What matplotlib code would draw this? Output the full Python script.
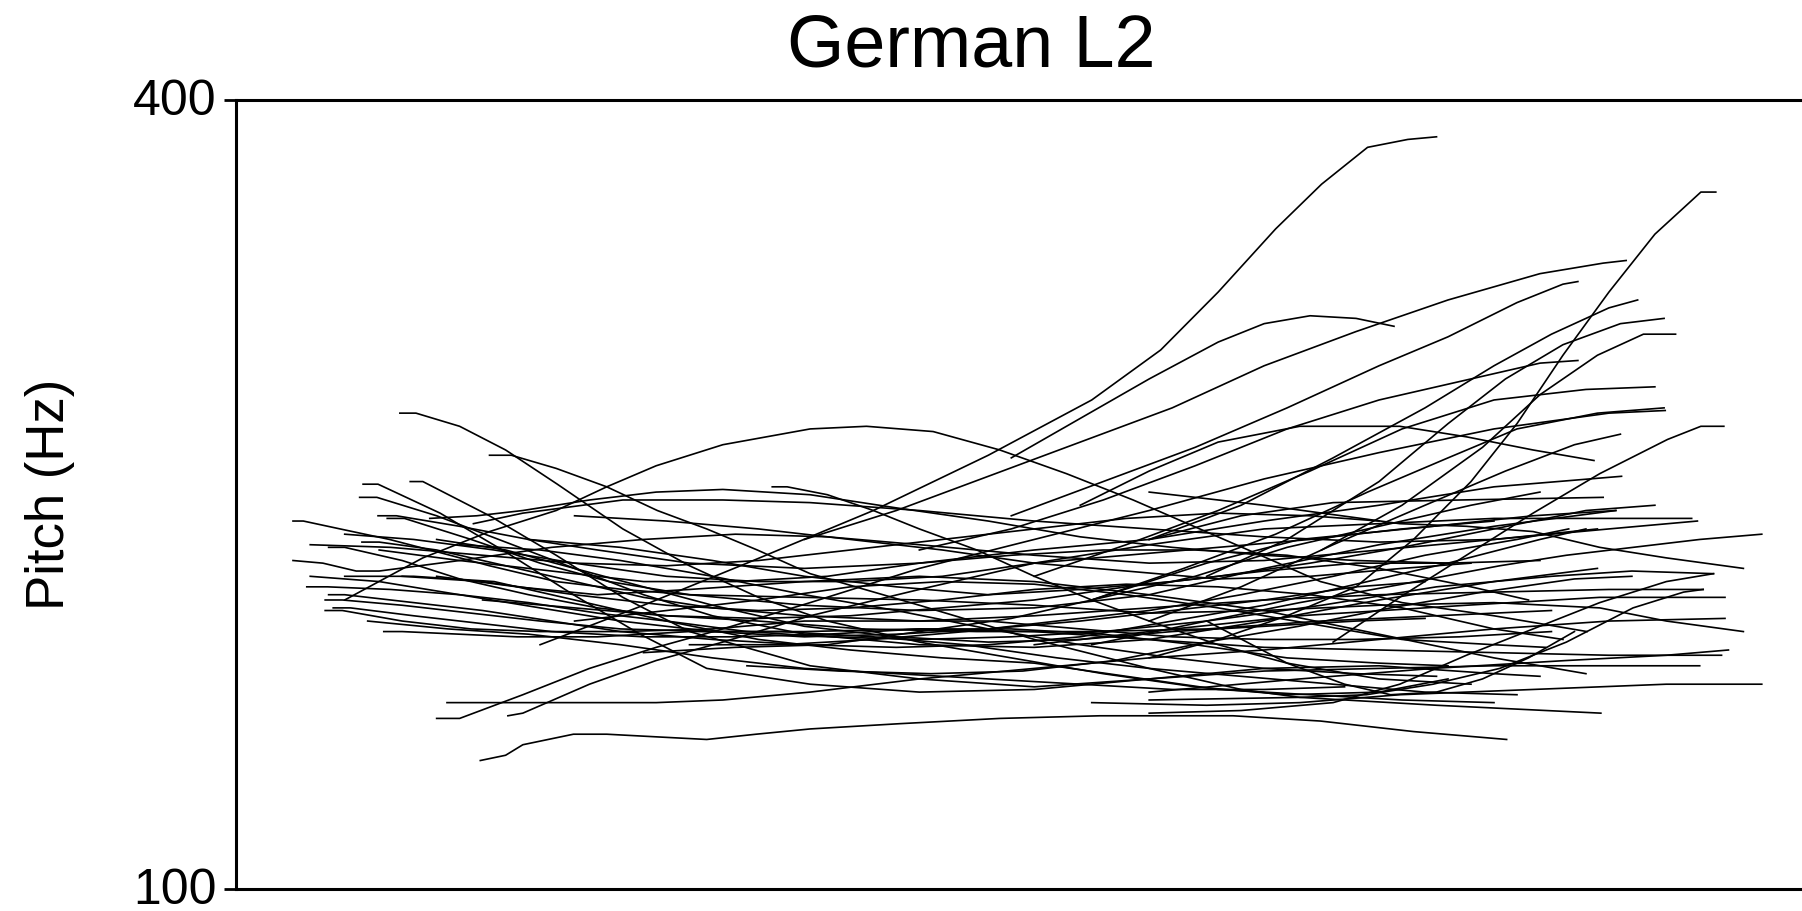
import matplotlib
matplotlib.use("Agg")
import matplotlib.pyplot as plt
import matplotlib.transforms as mtransforms

plt.rcParams['font.family'] = ['Liberation Sans', 'DejaVu Sans']

title = "German L2"
y_label = "Pitch (Hz)"
y_ticks = [100, 400]

# pitch contours: time (ms) and pitch (Hz), one row per contour
time_ms = [
    [143, 157, 195, 235, 280, 337, 395, 455, 515, 595, 675, 755, 835, 915, 995, 1055],
    [221, 240, 279, 323, 367, 410, 454, 500, 595, 695, 795, 875, 926, 1045, 1188],
    [111, 124, 178, 236, 294, 352, 410, 500, 595, 695, 795, 895, 995, 1095, 1135],
    [152, 163, 221, 279, 337, 395, 468, 500, 595, 695, 795, 895, 995, 1095, 1195, 1274],
    [108, 123, 175, 235, 295, 355, 415, 495, 595, 695, 795, 895, 995, 1095, 1185],
    [124, 140, 195, 255, 315, 395, 495, 595, 695, 795, 895, 995, 1095, 1206],
    [132, 147, 205, 265, 325, 395, 495, 595, 695, 795, 895, 995, 1095, 1201],
    [50, 59, 91, 134, 178, 221, 279, 337, 395, 495, 595, 695, 795, 895, 995, 1095, 1187, 1245, 1312],
    [110, 125, 175, 235, 295, 355, 415, 495, 595, 695, 795, 895, 995, 1095, 1195, 1277],
    [81, 95, 145, 195, 255, 315, 375, 455, 545, 645, 745, 845, 945, 1045, 1145],
    [50, 76, 105, 125, 195, 275, 355, 435, 515, 595, 695, 795, 895, 995, 1095, 1185],
    [62, 80, 135, 195, 255, 315, 375, 445, 515, 595, 675, 755, 845, 945, 1045, 1145, 1215, 1286],
    [81, 95, 155, 215, 275, 335, 415, 495, 575, 655, 735, 815, 895, 975, 1055, 1135, 1175],
    [78, 93, 145, 205, 265, 335, 415, 495, 595, 695, 795, 895, 995, 1095, 1195, 1293],
    [85, 100, 155, 215, 275, 355, 435, 515, 595, 675, 755, 835, 915, 995, 1055],
    [78, 93, 145, 205, 265, 335, 415, 495, 575, 655, 735, 815, 895, 975, 1065, 1145],
    [129, 145, 195, 245, 315, 395, 475, 555, 635, 715, 795, 875, 955, 1035, 1115],
    [95, 163, 221, 279, 323, 366, 424, 500, 549, 607, 665, 723, 781, 839, 897, 944, 1015, 1095, 1176],
    [184, 195, 250, 308, 366, 424, 500, 595, 695, 795, 895, 995, 1095, 1195, 1296],
    [175, 195, 250, 308, 366, 424, 500, 595, 695, 795, 895, 995, 1095, 1195, 1244],
    [237, 250, 308, 366, 424, 500, 595, 695, 795, 895, 995, 1095, 1195, 1267],
    [213, 235, 250, 294, 323, 366, 410, 453, 500, 578, 665, 752, 868, 944, 1025, 1106],
    [467, 480, 515, 555, 595, 645, 695, 745, 795, 855, 915, 995, 1075],
    [169, 210, 250, 308, 366, 424, 500, 575, 655, 735, 815, 895, 975, 1055],
    [207, 250, 337, 424, 500, 595, 695, 795, 895, 995, 1095, 1195, 1272],
    [265, 355, 445, 555, 655, 745, 805, 855, 905, 945, 985, 1020, 1045],
    [795, 855, 915, 975, 1025, 1075, 1115, 1155, 1195, 1235, 1275, 1288],
    [675, 735, 795, 855, 895, 935, 975, 1008],
    [495, 575, 655, 735, 815, 895, 975, 1055, 1135, 1190, 1210],
    [675, 755, 835, 915, 995, 1055, 1115, 1155, 1168],
    [795, 875, 955, 1035, 1095, 1145, 1195, 1220],
    [845, 915, 995, 1055, 1105, 1155, 1205, 1243],
    [945, 1015, 1085, 1135, 1185, 1225, 1253],
    [595, 675, 755, 835, 915, 995, 1075, 1135, 1168],
    [695, 775, 855, 935, 1015, 1095, 1175, 1235],
    [745, 825, 905, 985, 1055, 1115, 1185, 1243],
    [955, 1013, 1071, 1129, 1187, 1246, 1275, 1295],
    [795, 875, 955, 1035, 1105, 1165, 1205],
    [735, 795, 855, 926, 1013, 1071, 1129, 1182],
    [795, 875, 955, 1066, 1190],
    [745, 845, 926, 1042, 1129, 1201],
    [745, 845, 926, 1015, 1100, 1158, 1216, 1274, 1328],
    [795, 895, 1013, 1071, 1129, 1187, 1245, 1312],
    [795, 875, 955, 1013, 1071, 1129, 1187, 1245, 1286],
    [795, 926, 984, 1042, 1100, 1158, 1216, 1260, 1277],
    [695, 795, 926, 1071, 1187, 1296],
    [795, 926, 1042, 1158, 1245, 1299],
    [745, 845, 926, 1013, 1129, 1245, 1328],
    [175, 245, 315, 395, 495, 595, 695, 795, 895, 995, 1095, 1175],
    [95, 155, 225, 295, 375, 455, 535, 615, 695, 775, 855, 935, 1015, 1095],
    [845, 915, 965, 1005, 1045, 1085, 1125, 1165],
    [255, 335, 415, 495, 575, 655, 735, 815, 895, 975, 1055, 1135],
    [125, 195, 275, 355, 435, 515, 595, 675, 755, 835, 915, 995, 1075, 1125],
    [65, 125, 195, 265, 335, 415, 495, 575, 655, 735, 815, 895, 975, 1035],
    [195, 265, 335, 415, 495, 575, 655, 735, 815, 895, 975, 1045],
    [295, 375, 455, 535, 615, 695, 775, 855, 935, 1015, 1075],
    [395, 475, 555, 635, 715, 795, 875, 955, 1035, 1115, 1160],
    [115, 185, 255, 335, 415, 495, 575, 655, 735, 815, 895, 965],
    [95, 155, 225, 295, 375, 455, 535, 615, 695, 775, 855, 935, 1015, 1095],
    [145, 215, 295, 375, 455, 535, 615, 695, 775, 855, 935, 1015, 1095, 1155],
    [295, 375, 455, 535, 615, 695, 775, 855, 935, 1015, 1095, 1140],
    [215, 295, 375, 455, 535, 615, 695, 775, 855, 935, 1015, 1095, 1175, 1235],
    [355, 435, 515, 595, 675, 755, 835, 915, 995, 1075, 1135],
    [65, 135, 215, 295, 375, 455, 535, 615, 695, 775, 855, 935, 995],
    [445, 525, 605, 685, 765, 845, 925, 1005, 1085, 1165, 1215],
    [175, 235, 295, 355, 415, 495, 575, 655, 735, 815, 895, 975, 1035],
]

pitch_hz = [
    [281, 281, 276, 267, 254, 237, 223, 211, 202, 194, 188, 182, 177, 174, 175, 180],
    [265, 265, 260, 253, 244, 237, 229, 220, 208, 195, 184, 176, 173, 170, 167],
    [254, 254, 243, 228, 212, 197, 184, 178, 175, 176, 180, 184, 185, 182, 181],
    [255, 255, 242, 227, 211, 198, 189, 185, 180, 177, 180, 183, 184, 185, 185, 185],
    [249, 249, 242, 232, 222, 212, 204, 197, 193, 192, 195, 202, 210, 217, 222],
    [242, 242, 238, 233, 229, 224, 222, 224, 229, 233, 240, 246, 253, 257],
    [241, 241, 233, 224, 217, 212, 208, 206, 207, 212, 222, 231, 238, 244],
    [240, 240, 237, 233, 228, 223, 217, 214, 212, 211, 210, 208, 205, 206, 208, 209, 207, 202, 198],
    [232, 232, 229, 223, 217, 211, 207, 204, 202, 204, 207, 210, 212, 213, 214, 214],
    [230, 230, 225, 218, 212, 207, 204, 202, 199, 198, 198, 199, 202, 204, 206],
    [225, 224, 221, 221, 225, 230, 233, 235, 234, 231, 227, 224, 225, 229, 233, 237],
    [215, 215, 214, 212, 209, 205, 202, 198, 196, 195, 196, 198, 202, 208, 215, 219, 221, 220],
    [212, 212, 209, 206, 202, 198, 195, 193, 192, 193, 196, 202, 208, 216, 224, 233, 237],
    [210, 210, 208, 205, 202, 199, 198, 198, 199, 198, 195, 192, 191, 190, 189, 189],
    [207, 207, 204, 201, 198, 196, 196, 197, 199, 199, 197, 193, 188, 186, 185],
    [206, 206, 202, 199, 198, 198, 199, 202, 202, 202, 199, 196, 195, 195, 196, 198],
    [198, 198, 197, 196, 196, 198, 198, 196, 193, 188, 184, 181, 178, 175, 174],
    [210, 226, 236, 244, 253, 261, 269, 275, 276, 274, 267, 258, 248, 237, 226, 217, 209, 204, 198],
    [171, 171, 171, 171, 171, 172, 175, 180, 184, 188, 191, 195, 199, 202, 203],
    [165, 165, 174, 184, 192, 199, 209, 222, 233, 244, 256, 266, 275, 281, 282],
    [166, 167, 178, 187, 194, 204, 214, 224, 231, 237, 239, 241, 241, 241],
    [149, 151, 155, 159, 159, 158, 157, 159, 161, 163, 165, 166, 166, 164, 160, 157],
    [253, 253, 250, 244, 237, 229, 219, 210, 202, 193, 186, 180, 178],
    [241, 242, 244, 248, 251, 252, 250, 245, 240, 234, 230, 227, 225, 224],
    [239, 243, 248, 248, 247, 244, 240, 237, 234, 232, 233, 237, 240],
    [193, 208, 224, 244, 265, 286, 305, 327, 351, 368, 382, 385, 386],
    [188, 195, 204, 215, 233, 255, 277, 303, 327, 349, 365, 365],
    [264, 279, 294, 308, 315, 318, 317, 314],
    [233, 244, 257, 270, 283, 299, 312, 324, 334, 338, 339],
    [242, 255, 268, 283, 299, 310, 323, 330, 331],
    [233, 246, 264, 283, 299, 311, 321, 324],
    [219, 233, 255, 277, 294, 307, 315, 317],
    [229, 246, 268, 288, 303, 311, 311],
    [229, 237, 248, 261, 275, 286, 294, 300, 301],
    [219, 231, 244, 259, 275, 286, 290, 291],
    [210, 222, 235, 251, 264, 275, 281, 283],
    [194, 211, 227, 243, 258, 271, 276, 276],
    [202, 215, 231, 246, 259, 269, 273],
    [246, 259, 270, 276, 276, 272, 267, 263],
    [233, 242, 247, 248, 249],
    [210, 224, 233, 238, 242, 244],
    [193, 202, 209, 216, 223, 227, 230, 233, 235],
    [251, 246, 239, 238, 236, 230, 226, 222],
    [167, 168, 171, 178, 189, 199, 209, 217, 220],
    [172, 173, 174, 178, 184, 194, 207, 213, 214],
    [193, 198, 204, 208, 211, 211],
    [175, 180, 184, 187, 189, 191],
    [171, 170, 171, 174, 176, 178, 178],
    [219, 215, 212, 214, 217, 219, 217, 212, 206, 197, 188, 182],
    [219, 219, 217, 210, 202, 195, 191, 188, 186, 181, 176, 174, 172, 171],
    [202, 186, 178, 174, 175, 180, 188, 198],
    [233, 230, 225, 219, 215, 212, 214, 217, 221, 224, 224, 225],
    [229, 225, 221, 217, 217, 219, 224, 227, 229, 229, 227, 222, 215, 210],
    [219, 217, 212, 207, 202, 198, 196, 197, 199, 202, 206, 210, 215, 217],
    [231, 229, 225, 219, 212, 206, 199, 193, 188, 184, 182, 181],
    [242, 240, 237, 233, 229, 224, 221, 218, 219, 222, 224],
    [193, 193, 195, 198, 202, 206, 212, 219, 227, 233, 237],
    [202, 199, 197, 193, 188, 184, 182, 180, 178, 176, 176, 177],
    [235, 233, 229, 224, 219, 217, 217, 219, 224, 227, 230, 233, 237, 240],
    [219, 217, 212, 208, 206, 207, 210, 214, 216, 215, 212, 207, 199, 195],
    [202, 206, 210, 215, 217, 216, 212, 207, 201, 195, 193, 192],
    [210, 207, 204, 203, 204, 207, 210, 215, 219, 224, 230, 237, 244, 246],
    [190, 192, 193, 198, 203, 211, 219, 230, 238, 246, 251],
    [231, 230, 227, 224, 223, 225, 229, 233, 237, 241, 243, 242, 240],
    [185, 183, 182, 183, 187, 194, 200, 207, 213, 218, 219],
    [233, 229, 222, 215, 208, 200, 196, 194, 195, 198, 200, 202, 203],
]

fig = plt.figure(figsize=(18.02, 9.12), dpi=100)
ax = fig.add_axes([0.1307, 0.0236, 0.8693, 0.8657])

for t, f in zip(time_ms, pitch_hz):
    ax.plot(t, f, color='black', linewidth=1.2, solid_joinstyle='round')

ax.set_xlim(0, 1363)
ax.set_ylim(100, 400)
ax.set_xticks([])
ax.set_yticks(y_ticks)
ax.set_yticklabels([str(v) for v in y_ticks], fontsize=36)
ax.tick_params(axis='y', length=8.5, width=2.0, pad=5, direction='out')

# nudge the tick labels up a little, as in the original
shift = mtransforms.ScaledTranslation(0, 4 / 100, fig.dpi_scale_trans)
for lab in ax.get_yticklabels():
    lab.set_transform(lab.get_transform() + shift)

ax.spines['right'].set_visible(False)
for side in ['left', 'top', 'bottom']:
    ax.spines[side].set_linewidth(2.2)

fig.text(0.0277, 0.4583, y_label, rotation=90, ha='center', va='center', fontsize=38)
fig.text(0.539, 0.927, title, ha='center', va='baseline', fontsize=53)

fig.savefig('out.png', dpi=100)
